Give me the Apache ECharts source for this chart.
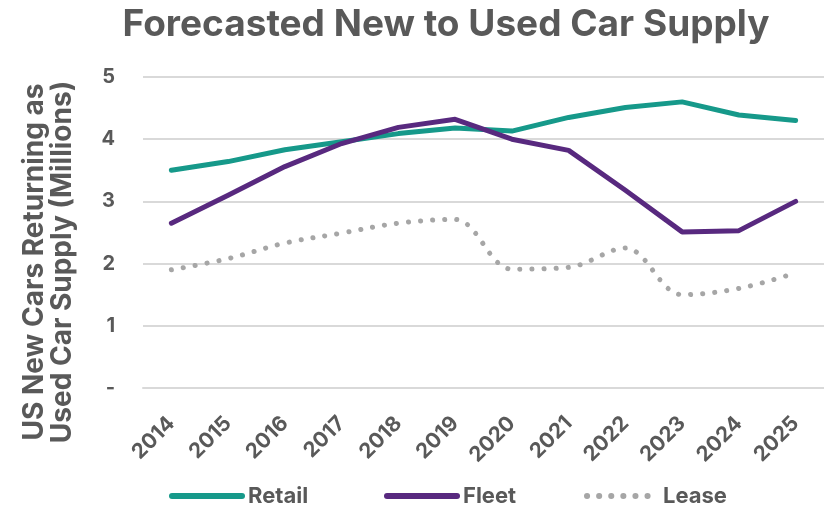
<!DOCTYPE html>
<html>
<head>
<meta charset="utf-8">
<script src="https://cdn.jsdelivr.net/npm/echarts@6/dist/echarts.min.js"></script>
<style>
html,body{margin:0;padding:0;background:#fff;}
#chart{width:824px;height:507px;}
</style>
</head>
<body>
<div id="chart"></div>
<script>
const years = ['2014','2015','2016','2017','2018','2019','2020','2021','2022','2023','2024','2025'];
const retail = [3.50, 3.64, 3.83, 3.96, 4.09, 4.18, 4.13, 4.35, 4.51, 4.60, 4.39, 4.30];
const fleet  = [2.65, 3.10, 3.56, 3.93, 4.19, 4.32, 4.00, 3.82, 3.18, 2.51, 2.53, 3.00];
const lease  = [1.90, 2.08, 2.33, 2.49, 2.65, 2.71, 1.91, 1.94, 2.25, 1.50, 1.60, 1.85];
const seriesNames = ['Retail','Fleet','Lease'];
const yTitle = 'US New Cars Returning as\nUsed Car Supply (Millions)';

const FONT = 'Inter';
const W = 700;
const GREY = '#595959';
const legendLeft = [164, 379, 579];
const chart = echarts.init(document.getElementById('chart'), null, {renderer:'canvas'});
chart.setOption({
  animation:false,
  backgroundColor:'#fff',
  title:{
    text:'Forecasted New to Used Car Supply',
    left:441, top:1, textAlign:'center',
    textStyle:{fontFamily:FONT, fontWeight:W, fontSize:37, color:GREY}
  },
  legend: seriesNames.map((n, i) => ({
    top:480, left:legendLeft[i],
    itemWidth:70, itemHeight:14,
    itemStyle:{opacity:0},
    lineStyle:{width:6, cap:'round'},
    textStyle:{fontFamily:FONT, fontWeight:W, fontSize:22, color:GREY, padding:[0,0,0,1]},
    data:[n]
  })),
  graphic:[{
    type:'text', x:49, y:262, rotation:Math.PI/2,
    style:{text:yTitle, fontFamily:FONT, fontWeight:W, fontSize:28, lineHeight:28,
      fill:GREY, align:'center', verticalAlign:'middle'}
  }],
  grid:{left:143, top:77, width:683, height:311, containLabel:false},
  xAxis:{
    type:'category', data:years, boundaryGap:true,
    axisLine:{show:true, lineStyle:{color:'#d9d9d9', width:2}},
    axisTick:{show:false},
    axisLabel:{rotate:45, margin:32, fontFamily:FONT, fontWeight:W, fontSize:21, color:GREY}
  },
  yAxis:{
    type:'value', min:0, max:5, interval:1,
    axisLine:{show:false}, axisTick:{show:false},
    splitLine:{lineStyle:{color:'#d9d9d9', width:2}},
    axisLabel:{margin:28, fontFamily:FONT, fontWeight:W, fontSize:20, color:GREY,
      formatter:v => v === 0 ? '-' : String(v)}
  },
  series:[
    {name:'Retail', type:'line', data:retail, symbol:'none',
      itemStyle:{color:'#16998a'},
      lineStyle:{color:'#16998a', width:5, cap:'round', join:'round'}},
    {name:'Fleet', type:'line', data:fleet, symbol:'none',
      itemStyle:{color:'#58297f'},
      lineStyle:{color:'#58297f', width:5, cap:'round', join:'round'}},
    {name:'Lease', type:'line', data:lease, symbol:'none', smooth:0.35,
      itemStyle:{color:'#a6a6a6'},
      lineStyle:{color:'#a6a6a6', width:5, type:[0.1,12], cap:'round', join:'round'}}
  ]
});
</script>
</body>
</html>
